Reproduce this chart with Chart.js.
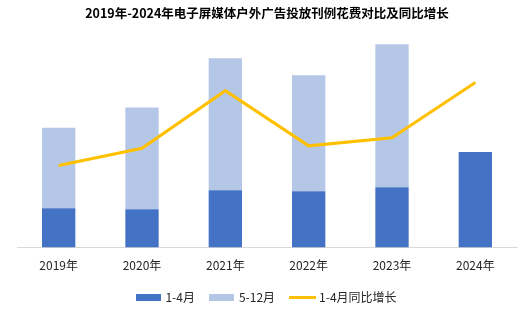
<!DOCTYPE html>
<html>
<head>
<meta charset="utf-8">
<script src="https://cdn.jsdelivr.net/npm/chart.js@4/dist/chart.umd.min.js"></script>
<style>
html,body{margin:0;padding:0;background:#fff;}
#wrap{width:532px;height:321px;position:relative;}
</style>
</head>
<body>
<div id="wrap"><canvas id="c" width="532" height="321"></canvas></div>
<script>
const categories = ['2019年','2020年','2021年','2022年','2023年','2024年'];
const jan_apr = [39, 38, 57, 56, 60, 95];
const may_dec = [80, 101, 131, 115, 142, null];
const growth = [-19.2, -10.7, 17.9, -9.5, -5.5, 22.0];

const FONT = '"Noto Sans CJK SC", "Noto Sans", sans-serif';

function swatch(w, h, color) {
  const c = document.createElement('canvas');
  c.width = w; c.height = h;
  const g = c.getContext('2d');
  g.fillStyle = color; g.fillRect(0, 0, w, h);
  return c;
}

const GAP = '\u2002\u2005';

new Chart(document.getElementById('c'), {
  type: 'bar',
  data: {
    labels: categories,
    datasets: [
      { label: '1-4月', data: jan_apr, backgroundColor: '#4472C4', stack: 's', yAxisID: 'y', order: 2,
        pointStyle: swatch(25, 7, '#4472C4') },
      { label: '5-12月', data: may_dec, backgroundColor: '#B4C7E7', stack: 's', yAxisID: 'y', order: 2,
        pointStyle: swatch(25, 7, '#B4C7E7') },
      { label: '1-4月同比增长', type: 'line', data: growth, borderColor: '#FFC000', backgroundColor: '#FFC000',
        borderWidth: 3, pointRadius: 0, tension: 0, yAxisID: 'y2', order: 0,
        pointStyle: swatch(27, 3, '#FFC000') }
    ]
  },
  options: {
    responsive: false,
    animation: false,
    devicePixelRatio: 1,
    layout: { padding: { left: 17, right: 15, top: 6, bottom: 8 } },
    datasets: { bar: { barPercentage: 0.4, categoryPercentage: 1 } },
    scales: {
      x: {
        stacked: true,
        grid: { display: false, drawTicks: false },
        border: { display: true, color: '#D9D9D9', width: 1 },
        ticks: { padding: 11, color: '#262626', font: { family: FONT, size: 12 } }
      },
      y: { stacked: true, display: false, min: 0, max: 220 },
      y2: { display: false, min: -60, max: 50 }
    },
    plugins: {
      title: {
        display: true,
        text: '2019年-2024年电子屏媒体户外广告投放刊例花费对比及同比增长',
        color: '#000000',
        font: { family: FONT, size: 12.5, weight: 'bold' },
        padding: { top: 0, bottom: 5 }
      },
      legend: {
        position: 'bottom',
        labels: {
          usePointStyle: true,
          pointStyleWidth: 22,
          boxHeight: 7,
          padding: 7,
          color: '#262626',
          font: { family: FONT, size: 12 },
          sort: (a, b) => a.datasetIndex - b.datasetIndex,
          filter: (item, data) => {
            if (item.datasetIndex < data.datasets.length - 1) item.text = item.text + GAP;
            return true;
          }
        }
      },
      tooltip: { enabled: false }
    }
  }
});
</script>
</body>
</html>
